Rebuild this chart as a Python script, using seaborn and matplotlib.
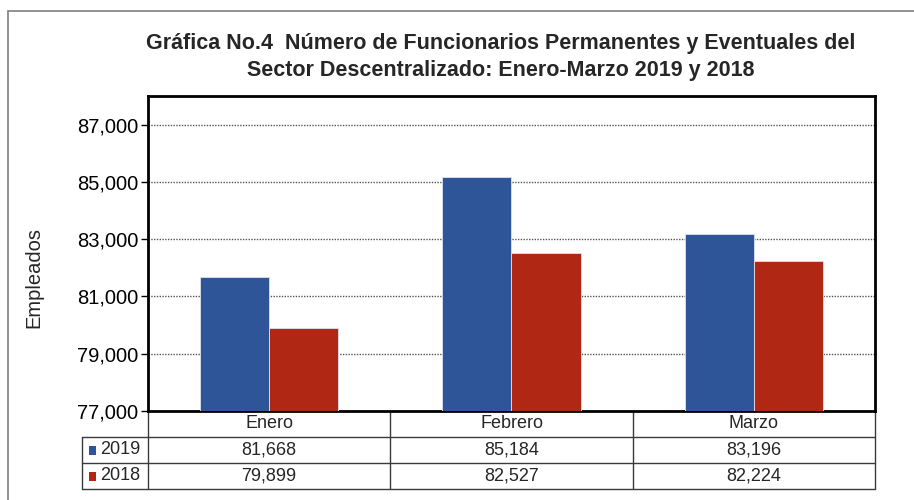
import matplotlib.pyplot as plt
import pandas as pd
import seaborn as sns
from matplotlib.patches import Rectangle

meses = ["Enero", "Febrero", "Marzo"]
anios = ["2019", "2018"]
valores_2019 = [81668, 85184, 83196]
valores_2018 = [79899, 82527, 82224]
colores = {"2019": "#2E5597", "2018": "#B02814"}

df = pd.DataFrame({
    "Mes": meses * 2,
    "Año": ["2019"] * 3 + ["2018"] * 3,
    "Empleados": valores_2019 + valores_2018,
})

sns.set_theme(style="white")
plt.rcParams["font.family"] = ["Liberation Sans", "DejaVu Sans"]

fig = plt.figure(figsize=(9.14, 5.0), dpi=100)
ax = fig.add_axes([148 / 914, 89 / 500, 727 / 914, 315 / 500])

sns.barplot(data=df, x="Mes", y="Empleados", hue="Año", hue_order=anios,
            palette=colores, width=0.572, gap=0, edgecolor="#dde3ee",
            linewidth=0.6, saturation=1, ax=ax, zorder=3)
ax.legend_.remove()

ax.set_ylim(77000, 88000)
ax.set_yticks(range(77000, 88000, 2000))
ax.set_yticklabels([f"{v:,}" for v in range(77000, 88000, 2000)], fontsize=14.5)
ax.set_xticks([])
ax.set_xlabel("")
ax.set_ylabel("Empleados", fontsize=14.5)
ax.yaxis.set_label_coords(-0.144, 0.425, transform=ax.transAxes)
ax.tick_params(axis="y", which="major", left=True, length=5, width=1,
               color="black", pad=2, labelcolor="black")
ax.yaxis.grid(True, linestyle=(0, (1, 1)), color="#555555", linewidth=1, zorder=0)
ax.set_axisbelow(True)
for s in ax.spines.values():
    s.set_visible(True)
    s.set_color("black")
    s.set_linewidth(2)

# data table below the axis (axes coordinates)
px_w, px_h = 727, 315
fila_h = 26 / px_h
x_izq = -66 / px_w
bordes = [0, 1 / 3, 2 / 3, 1]
linea = dict(transform=ax.transAxes, clip_on=False, color="#3a3a3a",
             linewidth=1, scalex=False, scaley=False)
for k in range(1, 4):
    ax.plot([x_izq, 1], [-k * fila_h, -k * fila_h], **linea)
ax.plot([x_izq, x_izq], [-fila_h, -3 * fila_h], **linea)
for xb in bordes:
    ax.plot([xb, xb], [0, -3 * fila_h], **linea)

for j, m in enumerate(meses):
    ax.text((j + 0.5) / 3, -0.5 * fila_h, m, transform=ax.transAxes,
            ha="center", va="center", fontsize=13)
filas = [("2019", valores_2019), ("2018", valores_2018)]
for i, (anio, vals) in enumerate(filas, start=1):
    yc = -(i + 0.5) * fila_h
    ax.text(-8 / px_w, yc, anio, transform=ax.transAxes,
            ha="right", va="center", fontsize=13)
    ax.add_patch(Rectangle((-59 / px_w, yc - 4.5 / px_h), 7 / px_w, 9 / px_h,
                           transform=ax.transAxes, clip_on=False,
                           facecolor=colores[anio], edgecolor="none"))
    for j, v in enumerate(vals):
        ax.text((j + 0.5) / 3, yc, f"{v:,}", transform=ax.transAxes,
                ha="center", va="center", fontsize=13)

ax.set_xlim(-0.5, 2.5)
ax.set_ylim(77000, 88000)

fig.text(0.548, 0.886, "Gráfica No.4  Número de Funcionarios Permanentes y Eventuales del\n"
         "Sector Descentralizado: Enero-Marzo 2019 y 2018",
         ha="center", va="center", fontsize=15.5, fontweight="bold",
         linespacing=1.35)

# outer chart border
fig.add_artist(Rectangle((8 / 914, -0.05), 1.2, 1.028,
                         transform=fig.transFigure, fill=False,
                         edgecolor="#7f7f7f", linewidth=1.2))

fig.savefig("out.png", dpi=100)
